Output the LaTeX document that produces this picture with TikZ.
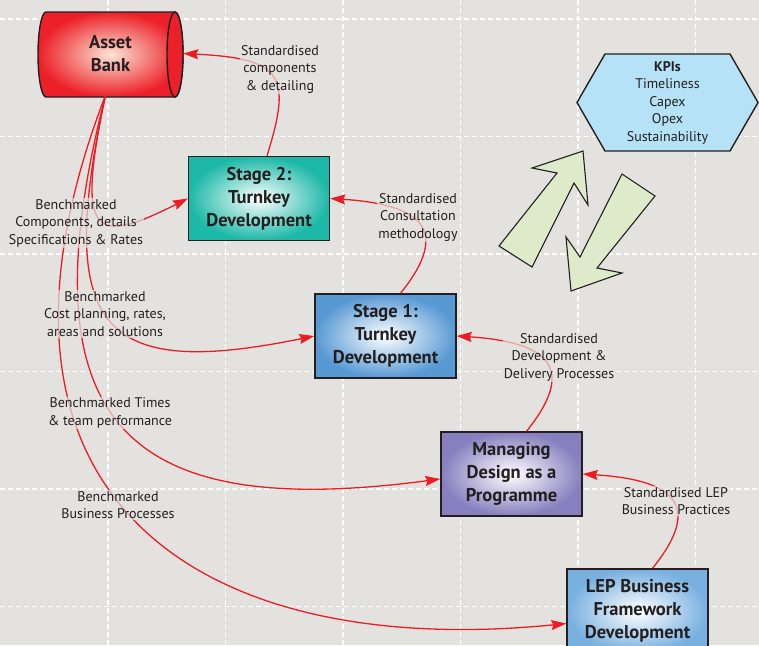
\documentclass[tikz,border=0pt]{standalone}
\usepackage{fontspec}
\setmainfont{PT Sans}
\usetikzlibrary{arrows.meta,shapes.symbols}

\definecolor{paper}{RGB}{227,226,222}
\definecolor{linkred}{RGB}{237,28,36}
\definecolor{bankred}{RGB}{236,32,40}
\definecolor{bankcore}{RGB}{252,228,214}
\definecolor{stagetwo}{RGB}{28,184,168}
\definecolor{stageone}{RGB}{88,153,212}
\definecolor{progpurple}{RGB}{135,127,190}
\definecolor{lepblue}{RGB}{120,176,224}
\definecolor{kpiblue}{RGB}{182,226,247}
\definecolor{arrowgreen}{RGB}{222,235,203}
\definecolor{ink}{RGB}{35,31,32}

\newcommand{\boxfont}{\fontsize{18.5}{23}\selectfont\bfseries}
\newcommand{\labfont}{\fontsize{14}{17.5}\selectfont}

\begin{document}
\begin{tikzpicture}[x=1pt,y=-1pt,
    link/.style={draw=linkred, line width=1.3pt, -{Stealth[length=15pt,width=10pt,inset=2pt]}},
    note/.style={fill=paper, fill opacity=.7, text opacity=1, text=ink, font=\labfont, align=center, inner sep=1pt}]

      \useasboundingbox (0,0) rectangle (759,645);
      \clip (0,0) rectangle (759,645);
      \fill[paper] (0,0) rectangle (759,645);
      \foreach \k in {0,...,5} {
        \draw[white, line width=1.3pt, dash pattern=on 5pt off 3pt] (108+117.5*\k,0) -- (108+117.5*\k,645);
        \draw[white, line width=1.3pt, dash pattern=on 5pt off 3pt] (0,19+117.5*\k) -- (759,19+117.5*\k);
      }

      \shade[draw=ink, line width=1.4pt, inner color=bankcore, outer color=bankred]
        (46,12) -- (175,12) arc[start angle=-90, end angle=90, x radius=8, y radius=42.5]
        -- (46,97) arc[start angle=90, end angle=270, x radius=8, y radius=42.5] -- cycle;
      \draw[fill=bankred, line width=1.4pt, draw=ink] (175,54.5) ellipse[x radius=8, y radius=42.5];
      \node[minimum width=145pt, minimum height=85pt, font=\boxfont, text=ink, align=center] (bank) at (110.5,53.5) {Asset\\Bank};

      \begin{scope}[every node/.style={draw=ink, line width=1.4pt, minimum width=141pt, minimum height=84pt, align=center, font=\boxfont, text=ink, inner color=white}]
        \node[outer color=stagetwo]   (s2)  at (259,198.5) {Stage 2:\\Turnkey\\Development};
        \node[outer color=stageone]   (s1)  at (385.5,336) {Stage 1:\\Turnkey\\Development};
        \node[outer color=progpurple] (mp)  at (511.5,474) {Managing\\Design as a\\Programme};
        \node[outer color=lepblue]    (lep) at (637.5,611) {LEP Business\\Framework\\Development};
      \end{scope}

      \node[signal, signal to=west and east, signal pointer angle=120, draw=ink, line width=1.4pt, fill=kpiblue,
            minimum width=181pt, minimum height=97pt, align=center, font=\labfont, text=ink, inner sep=0pt]
            (kpi) at (667.5,102.5) {\textbf{KPIs}\\Timeliness\\Capex\\Opex\\Sustainability};

      \draw[fill=arrowgreen, draw=ink, line width=1.1pt] (583,151) -- (532,168) -- (557,173) -- (499,246) -- (532,267) -- (574,183) -- (588,205) -- cycle;
      \draw[fill=arrowgreen, draw=ink, line width=1.1pt] (622,174) -- (655,196) -- (597,268) -- (622,273) -- (571,291) -- (566,237) -- (580,257) -- cycle;

      \coordinate (fan) at ([xshift=-5pt,yshift=1pt]bank.south);
      \path[link] (fan) .. controls (75,240) and (95,245) .. (s2.west);
      \path[link] (fan) .. controls (55,330) and (100,380) .. (s1.west);
      \path[link] (fan) .. controls (20,430) and (130,520) .. (mp.184);
      \path[link] (fan) .. controls (-50,500) and (200,660) .. (lep.190);
      \path[link] ([xshift=8pt]s2.north) .. controls +(25,-80) and +(100,5) .. (bank.east);
      \path[link] ([xshift=15pt]s1.north) .. controls +(50,-62) and +(94,6) .. (s2.east);
      \path[link] ([xshift=15pt]mp.north) .. controls +(50,-62) and +(94,6) .. (s1.east);
      \path[link] ([xshift=15pt]lep.north) .. controls +(50,-62) and +(94,6) .. (mp.east);

      \begin{scope}[every node/.style={note}]
        \node (n1) at (280,69)  {Standardised\\components\\\& detailing};
        \node (n2) at (418,217) {Standardised\\Consultation\\methodology};
        \node (n3) at (559,357) {Standardised\\Development \&\\Delivery Processes};
        \node (n4) at (676,501) {Standardised LEP\\Business Practices};
        \node (na) at (76,223)  {Benchmarked\\Components, details\\Specifications \& Rates};
        \node (nb) at (105,314) {Benchmarked\\Cost planning, rates,\\areas and solutions};
        \node (nc) at (110,413) {Benchmarked Times\\\& team performance};
        \node (nd) at (118,505) {Benchmarked\\Business Processes};
      \end{scope}

\end{tikzpicture}
\end{document}
